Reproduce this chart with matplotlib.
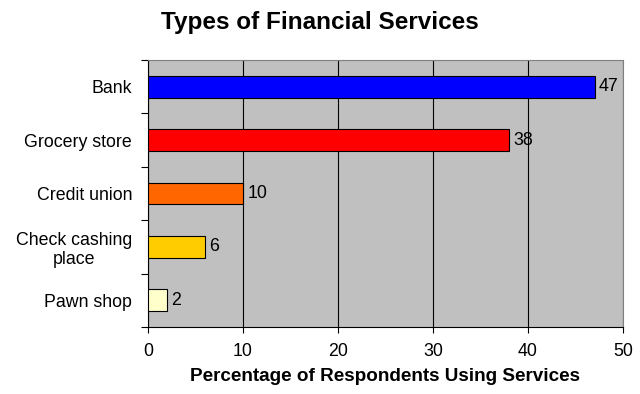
import matplotlib
matplotlib.use('Agg')
import matplotlib.pyplot as plt
import numpy as np

plt.rcParams['font.family'] = ['Liberation Sans', 'DejaVu Sans']

categories = ['Bank', 'Grocery store', 'Credit union', 'Check cashing\nplace', 'Pawn shop']
values = [47, 38, 10, 6, 2]
bar_colors = ['#0000FF', '#FF0000', '#FF6600', '#FFCC00', '#FFFFCC']
x_ticks = [0, 10, 20, 30, 40, 50]

fig = plt.figure(figsize=(6.4, 3.94), dpi=100)
ax = fig.add_axes([148 / 640, 1 - 327 / 394, 475 / 640, 267 / 394])
ax.set_facecolor('#C0C0C0')

y = np.arange(len(categories))
ax.barh(y, values, height=0.41, color=bar_colors, edgecolor='black', linewidth=0.8, zorder=3)
for yi, v in zip(y, values):
    ax.text(v + 0.45, yi, str(v), va='center', ha='left', fontsize=12.8, zorder=4)

ax.set_xlim(0, 50)
ax.set_ylim(len(categories) - 0.5, -0.5)
ax.set_xticks(x_ticks)
ax.set_xticklabels([str(t) for t in x_ticks], fontsize=12.8)
ax.tick_params(axis='x', length=4, width=0.8, pad=7.7)

# boundaries get tick marks, centers get labels
ax.set_yticks(np.arange(-0.5, len(categories)), labels=[''] * (len(categories) + 1))
ax.set_yticks(y, labels=categories, minor=True)
ax.tick_params(axis='y', which='major', length=5, width=0.8)
ax.tick_params(axis='y', which='minor', length=0, pad=11.5, labelsize=12.8)
for lbl in ax.get_yticklabels(minor=True):
    lbl.set_multialignment('center')

ax.grid(True, axis='x', color='black', linewidth=0.8, zorder=1)
ax.spines['top'].set_color('#808080')
ax.spines['right'].set_color('#808080')
for s in ax.spines.values():
    s.set_linewidth(0.8)

fig.text(0.5, 1 - 22 / 394, 'Types of Financial Services', ha='center', va='center',
         fontsize=17.5, fontweight='bold')
ax.set_xlabel('Percentage of Respondents Using Services', fontsize=13.6, fontweight='bold', labelpad=5.4)

fig.savefig('out.png', dpi=100)
